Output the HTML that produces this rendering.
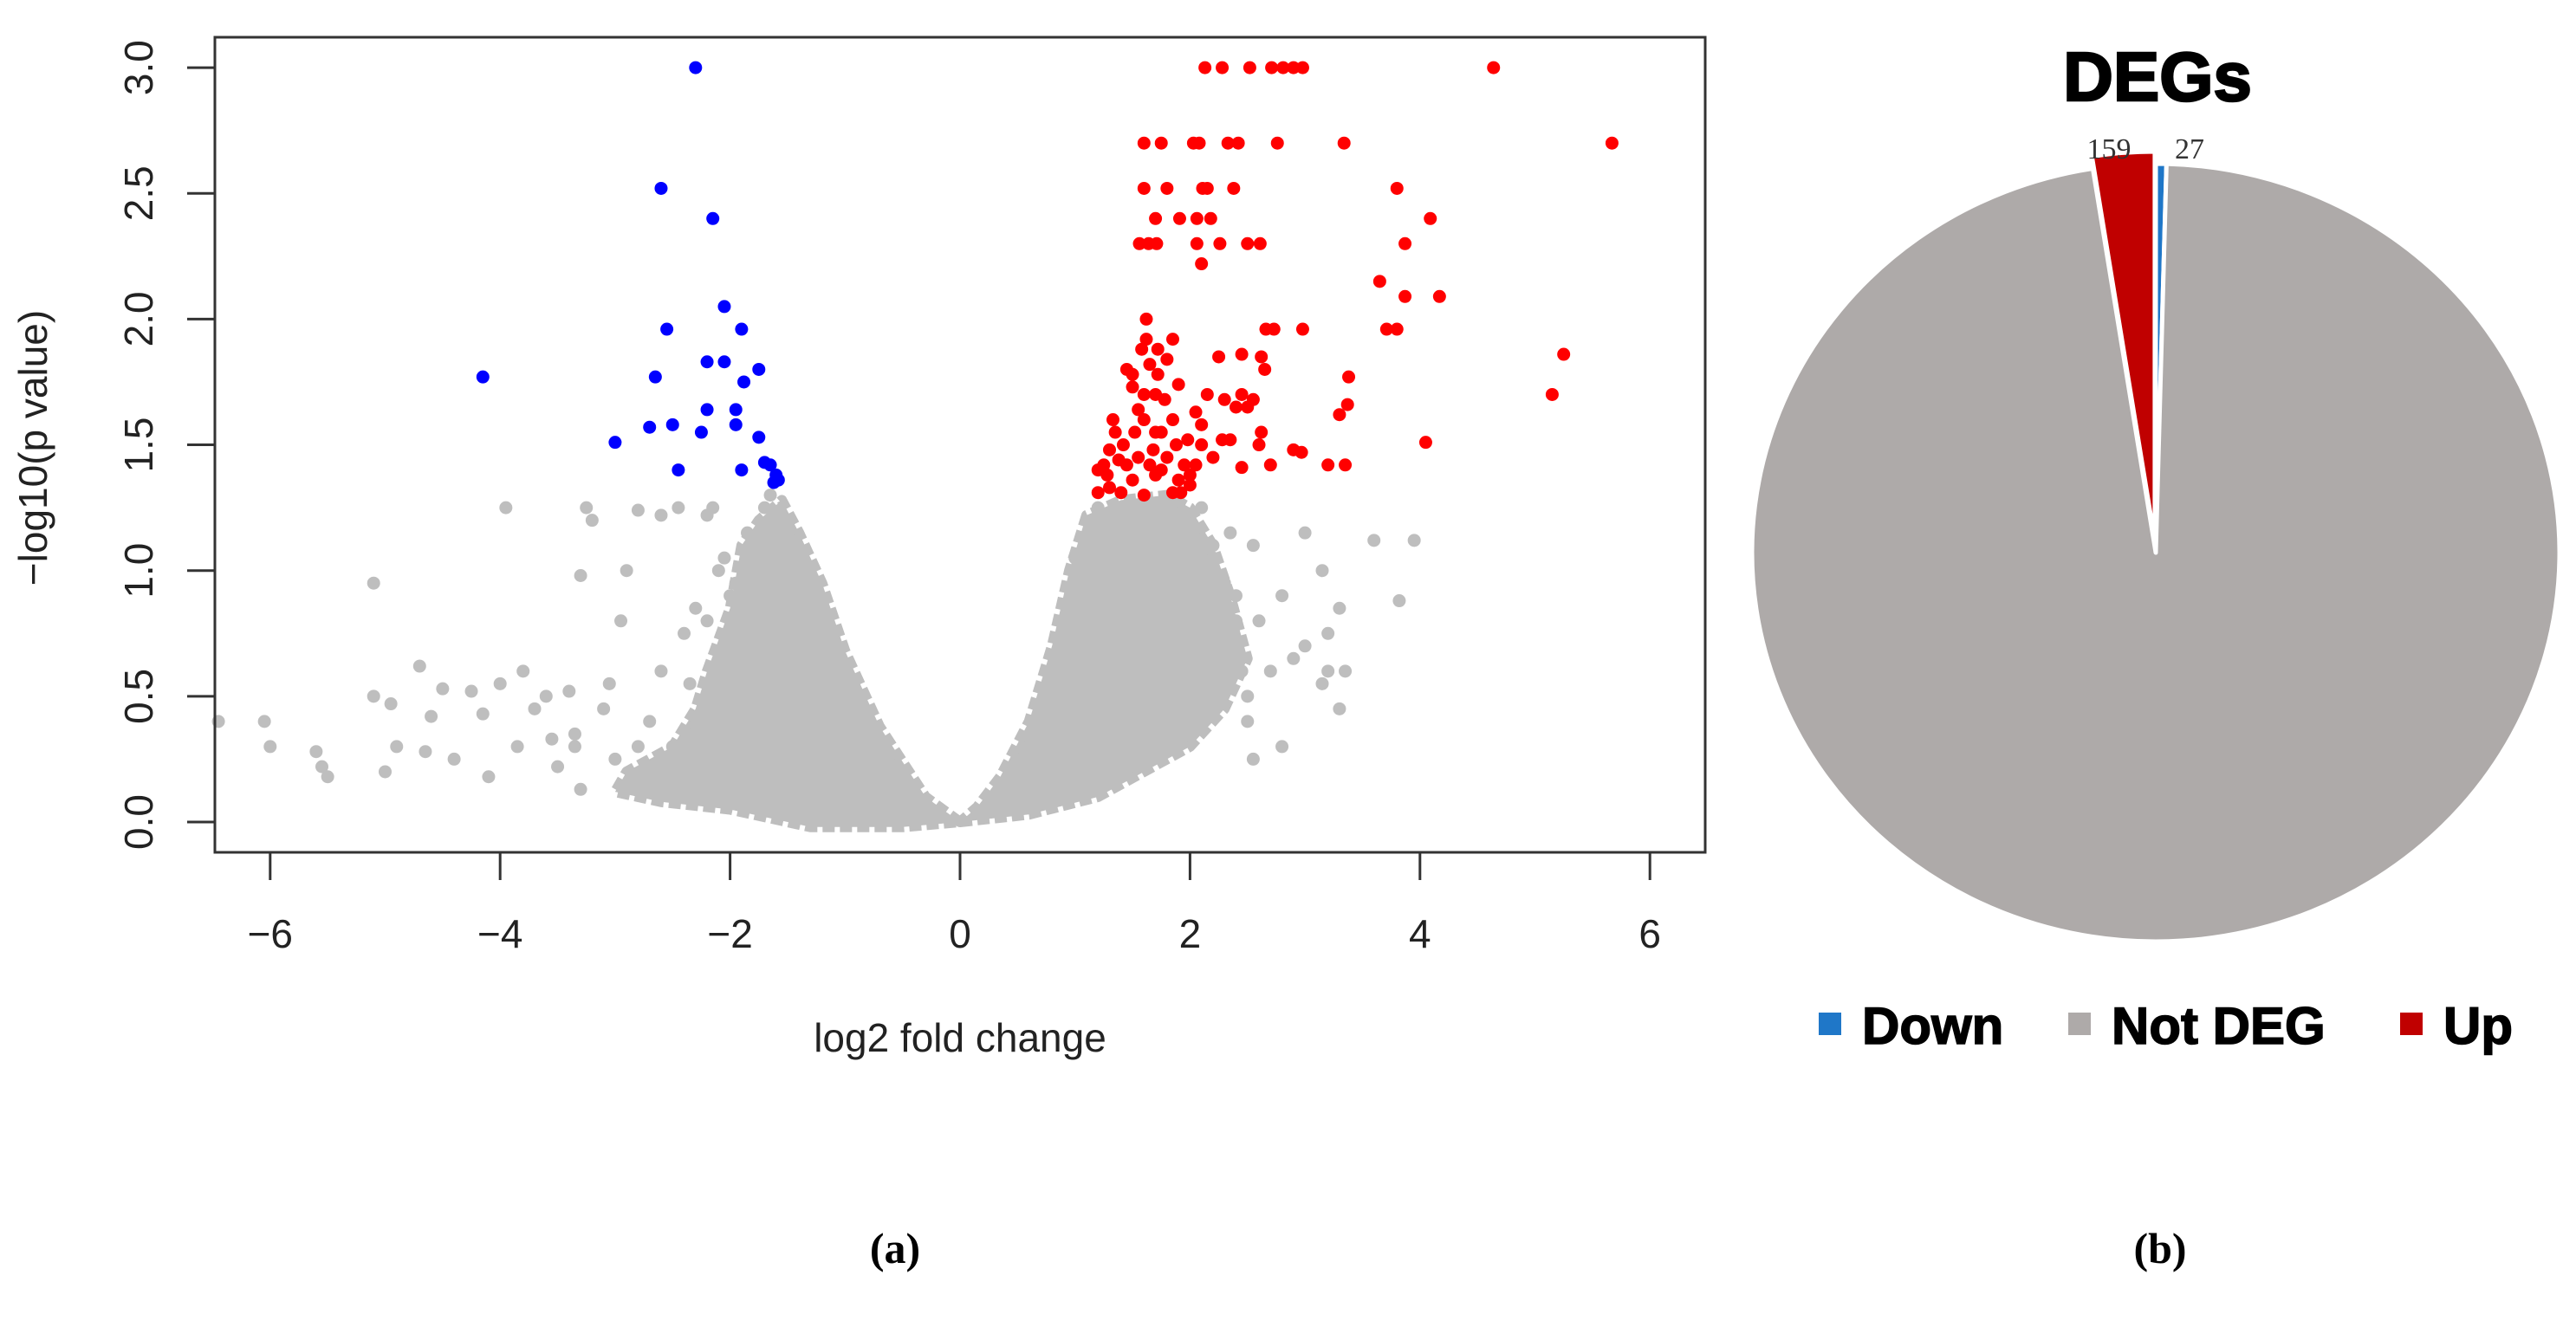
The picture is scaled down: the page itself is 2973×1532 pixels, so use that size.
<!DOCTYPE html>
<html><head><meta charset="utf-8"><style>
html,body{margin:0;padding:0;background:#fff;width:2973px;height:1532px;overflow:hidden}
svg{display:block}
</style></head><body>
<svg id="chart" width="2973" height="1532" viewBox="0 0 2973 1532" xmlns="http://www.w3.org/2000/svg" font-family="'Liberation Sans', sans-serif">
<g id="volcano"></g>
<g id="pie"></g>
<text x="1033" y="1458" text-anchor="middle" font-family="'Liberation Serif', serif" font-weight="bold" font-size="50">(a)</text>
<text x="2493" y="1458" text-anchor="middle" font-family="'Liberation Serif', serif" font-weight="bold" font-size="50">(b)</text>
</svg>
<script>
const xTicks=[-6,-4,-2,0,2,4,6];
const yTicks=[0,0.5,1,1.5,2,2.5,3];
const yTickLabels=["0.0","0.5","1.0","1.5","2.0","2.5","3.0"];
const downX=[-2.3,-2.6,-2.15,-2.05,-1.9,-2.55,-2.2,-2.05,-1.75,-2.65,-4.15,-1.88,-2.2,-1.95,-2.5,-1.95,-2.7,-2.25,-1.75,-3.0,-1.7,-1.65,-2.45,-1.9,-1.6,-1.62,-1.58];
const downY=[3.0,2.52,2.4,2.05,1.96,1.96,1.83,1.83,1.8,1.77,1.77,1.75,1.64,1.64,1.58,1.58,1.57,1.55,1.53,1.51,1.43,1.42,1.4,1.4,1.38,1.35,1.36];
const upX=[2.13,2.28,2.52,2.71,2.81,2.9,2.98,4.64,1.6,1.75,2.03,2.08,2.33,2.42,2.76,3.34,5.67,1.6,1.8,2.11,2.15,2.38,3.8,1.7,1.91,2.06,2.18,4.09,1.56,1.64,1.71,2.06,2.26,2.5,2.61,3.87,2.1,3.65,3.87,4.17,2.66,2.73,2.98,3.71,3.8,1.62,
1.62,1.72,1.85,2.45,3.38,5.25,5.15,4.05,3.37,3.3,2.9,2.97,3.2,3.35,2.7,2.45,2.6,2.35,2.28,2.55,2.45,2.62,2.65,2.15,2.3,2.4,2.05,2.1,1.9,1.85,1.75,1.55,1.5,1.45,1.5,1.6,1.65,1.7,1.78,1.6,1.7,1.52,1.42,1.35,1.3,1.25,1.2,1.28,1.38,1.45,1.55,1.65,1.75,1.8,1.95,2.0,2.05,1.9,1.85,1.92,2.0,1.6,1.4,1.2,1.3,1.5,1.7,2.2,2.1,1.98,1.58,1.72,1.8,1.68,2.25,2.5,2.62,1.33,1.88];
const upY=[3,3,3,3,3,3,3,3,2.7,2.7,2.7,2.7,2.7,2.7,2.7,2.7,2.7,2.52,2.52,2.52,2.52,2.52,2.52,2.4,2.4,2.4,2.4,2.4,2.3,2.3,2.3,2.3,2.3,2.3,2.3,2.3,2.22,2.15,2.09,2.09,1.96,1.96,1.96,1.96,1.96,2.0,
1.92,1.88,1.92,1.86,1.77,1.86,1.7,1.51,1.66,1.62,1.48,1.47,1.42,1.42,1.42,1.41,1.5,1.52,1.52,1.68,1.7,1.85,1.8,1.7,1.68,1.65,1.63,1.58,1.74,1.6,1.55,1.64,1.78,1.8,1.73,1.7,1.82,1.7,1.68,1.6,1.55,1.55,1.5,1.55,1.48,1.42,1.4,1.38,1.44,1.42,1.45,1.42,1.4,1.45,1.42,1.38,1.42,1.36,1.31,1.31,1.34,1.3,1.31,1.31,1.33,1.36,1.38,1.45,1.5,1.52,1.88,1.78,1.84,1.48,1.85,1.65,1.55,1.6,1.5];
const greyX=[-6.45,-6.05,-6.0,-5.6,-5.55,-5.5,-5.1,-5.1,-5.0,-4.95,-4.9,-4.7,-4.65,-4.6,-4.5,-4.4,-4.25,-4.15,-4.1,-4.0,-3.95,-3.85,-3.8,-3.7,-3.6,-3.55,-3.5,-3.4,-3.35,-3.3,-3.25,-3.2,-3.1,-3.05,-2.95,-2.9,-2.8,-2.6,-2.45,-2.3,-2.2,-2.15,-2.4,-2.7,-3.0,-3.3,-3.35,-2.8,-2.6,-2.1,-2.0,3.0,3.15,3.2,3.3,3.2,3.3,3.35,3.15,3.0,2.8,2.7,2.6,2.5,2.4,2.55,2.8,3.6,3.95,3.82,2.9,2.3,2.2,2.35,-1.7,-1.85,-2.05,-1.95,-2.2,-2.35,-2.5,-2.65,-1.65,-1.5,2.4,2.45,2.5,2.55,2.3,2.2,2.1,1.9,1.2,1.0,-1.0];
const greyY=[0.4,0.4,0.3,0.28,0.22,0.18,0.95,0.5,0.2,0.47,0.3,0.62,0.28,0.42,0.53,0.25,0.52,0.43,0.18,0.55,1.25,0.3,0.6,0.45,0.5,0.33,0.22,0.52,0.3,0.98,1.25,1.2,0.45,0.55,0.8,1.0,1.24,1.22,1.25,0.85,1.22,1.25,0.75,0.4,0.25,0.13,0.35,0.3,0.6,1.0,0.9,1.15,1.0,0.75,0.85,0.6,0.45,0.6,0.55,0.7,0.9,0.6,0.8,0.5,0.9,1.1,0.3,1.12,1.12,0.88,0.65,0.7,1.05,1.15,1.25,1.15,1.05,0.95,0.8,0.55,0.3,0.15,1.3,1.2,0.8,0.6,0.4,0.25,0.95,1.1,1.25,1.3,1.25,1.05,0.6];
const leftArmX=[0,-0.3,-0.7,-1.0,-1.2,-1.4,-1.55,-1.75,-1.9,-2.0,-2.2,-2.3,-2.5,-2.9,-3.0,-2.6,-2.0,-1.3,-0.5];
const leftArmY=[0,0.1,0.38,0.68,0.95,1.15,1.28,1.2,1.1,0.85,0.6,0.45,0.3,0.2,0.12,0.08,0.05,-0.02,-0.02];
const rightArmX=[0,0.6,1.2,1.6,2.0,2.3,2.5,2.35,2.2,2.0,1.8,1.4,1.1,0.95,0.8,0.6,0.35,0.15];
const rightArmY=[0,0.03,0.1,0.2,0.3,0.45,0.65,0.9,1.1,1.25,1.3,1.28,1.22,1.0,0.7,0.4,0.18,0.06];
const pieLabels=["Down","Not DEG","Up"];
const pieValues=[27,6200,159];
const pieColors=["#1f77c8","#aeaaa9","#c00000"];

const NS="http://www.w3.org/2000/svg";
function mk(tag,attrs,parent){const e=document.createElementNS(NS,tag);for(const k in attrs)e.setAttribute(k,attrs[k]);parent.appendChild(e);return e;}
const X0=248,X1=1968,Y0=43,Y1=984;
const sx=v=>1108+v*132.7;
const sy=v=>949-v*290.3;
const vg=document.getElementById('volcano');

function arm(xs,ys,name){
  const p=mk('polygon',{points:xs.map((x,i)=>sx(x)+','+sy(ys[i])).join(' '),fill:'#bebebe',stroke:'#bebebe','stroke-width':12,'stroke-linejoin':'round','stroke-dasharray':'14 6'},vg);
  
  
}
arm(leftArmX,leftArmY,'grey-cloud-left');
arm(rightArmX,rightArmY,'grey-cloud-right');
function pts(xs,ys,col,name){
  xs.forEach((x,i)=>{
    const c=mk('circle',{cx:sx(x),cy:sy(ys[i]),r:7.5,fill:col},vg);
    
    
  });
}
pts(greyX,greyY,'#bebebe','grey-point');
pts(upX,upY,'#ff0000','up-point');
pts(downX,downY,'#0000ff','down-point');

const frame=mk('rect',{x:X0,y:Y0,width:X1-X0,height:Y1-Y0,fill:'none',stroke:'#333',"stroke-width":3},vg);


xTicks.forEach(t=>{
  const l=mk('line',{x1:sx(t),x2:sx(t),y1:Y1,y2:Y1+32,stroke:'#333','stroke-width':3},vg);
  
  
  const tx=mk('text',{x:sx(t),y:1094,'text-anchor':'middle','font-size':46,fill:'#222'},vg);
  tx.textContent=t<0?'\u2212'+Math.abs(t):String(t);
  
  
});
yTicks.forEach((t,i)=>{
  const l=mk('line',{x1:X0-32,x2:X0,y1:sy(t),y2:sy(t),stroke:'#333','stroke-width':3},vg);
  
  
  const tx=mk('text',{x:0,y:0,'text-anchor':'middle','font-size':46,fill:'#222',transform:'translate(176,'+sy(t)+') rotate(-90)'},vg);
  tx.textContent=yTickLabels[i];
  
  
});
const xt=mk('text',{x:1108,y:1214,'text-anchor':'middle','font-size':46,fill:'#222'},vg);
xt.textContent='log2 fold change';


const yt=mk('text',{x:0,y:0,'text-anchor':'middle','font-size':46,fill:'#222',transform:'translate(54,517) rotate(-90)'},vg);
yt.textContent='\u2212log10(p value)';



// pie
const pg=document.getElementById('pie');
const cx=2488,cy=638,rx=466,ry=449;
const total=pieValues.reduce((a,b)=>a+b,0);
let ang=0;
const offs=[0,0,14];
pieValues.forEach((v,i)=>{
  const a0=ang,a1=ang+v/total*2*Math.PI;ang=a1;
  const mid=(a0+a1)/2,dx=Math.sin(mid)*offs[i],dy=-Math.cos(mid)*offs[i];
  const p0=[cx+dx+rx*Math.sin(a0),cy+dy-ry*Math.cos(a0)],p1=[cx+dx+rx*Math.sin(a1),cy+dy-ry*Math.cos(a1)];
  const large=(a1-a0)>Math.PI?1:0;
  const s=mk('path',{d:`M${cx+dx},${cy+dy} L${p0[0]},${p0[1]} A${rx},${ry} 0 ${large} 1 ${p1[0]},${p1[1]} Z`,fill:pieColors[i],stroke:'#fff','stroke-width':5,'stroke-linejoin':'round'},pg);
  
  
});
const title=mk('text',{x:2490,y:116,'text-anchor':'middle','font-size':80,'font-weight':'bold',fill:'#000',stroke:'#000','stroke-width':2.5},pg);
title.textContent='DEGs';


const l1=mk('text',{x:2434,y:183,'text-anchor':'middle','font-size':34,fill:'#333','font-family':"'Liberation Serif', serif"},pg);
l1.textContent=String(pieValues[2]);


const l2=mk('text',{x:2527,y:183,'text-anchor':'middle','font-size':34,fill:'#333','font-family':"'Liberation Serif', serif"},pg);
l2.textContent=String(pieValues[0]);


const legX=[2099,2387,2770];
pieLabels.forEach((lab,i)=>{
  const r=mk('rect',{x:legX[i],y:1169,width:26,height:26,fill:pieColors[i]},pg);
  
  
  const t=mk('text',{x:legX[i]+50,y:1205,'font-size':60,'font-weight':'bold',fill:'#000',stroke:'#000','stroke-width':1.5},pg);
  t.textContent=lab;
  
  
});
</script>
</body></html>
